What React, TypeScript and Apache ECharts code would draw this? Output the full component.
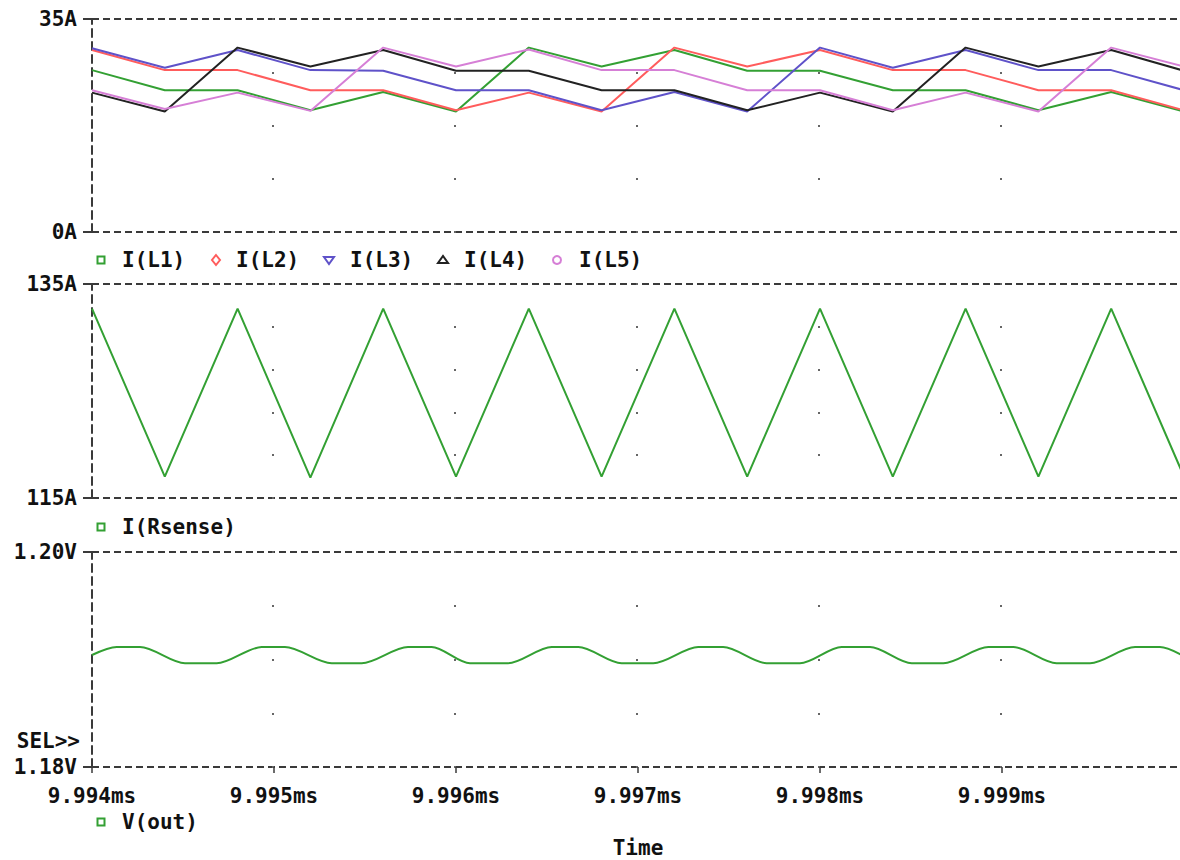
import React, { useEffect, useRef } from "react";
import * as echarts from "echarts";

// time offsets in microseconds from 9.994 ms
const T_STEPS = [0, 0.4, 0.8, 1.2, 1.6, 2.0, 2.4, 2.8, 3.2, 3.6, 4.0, 4.4, 4.8, 5.2, 5.6, 6.0];

const iL1 = [26.6, 23.3, 23.3, 20.0, 23.0, 19.8, 30.3, 27.2, 29.9, 26.5, 26.5, 23.3, 23.3, 20.0, 23.0, 19.8];
const iL2 = [29.9, 26.6, 26.6, 23.3, 23.3, 20.0, 22.9, 19.8, 30.3, 27.2, 29.9, 26.6, 26.6, 23.3, 23.3, 20.0];
const iL3 = [30.2, 27.0, 29.9, 26.6, 26.5, 23.3, 23.3, 20.0, 23.0, 19.8, 30.3, 27.0, 29.9, 26.6, 26.6, 23.3];
const iL4 = [22.9, 19.8, 30.3, 27.2, 29.9, 26.5, 26.5, 23.3, 23.3, 20.0, 22.9, 19.8, 30.3, 27.2, 29.9, 26.5];
const iL5 = [23.3, 20.2, 22.9, 19.9, 30.3, 27.2, 30.0, 26.6, 26.6, 23.3, 23.3, 20.0, 22.9, 19.8, 30.3, 27.2];

const iRsense = [132.7, 117.0, 132.7, 116.9, 132.7, 117.0, 132.7, 117.0, 132.7, 117.0, 132.7, 117.0, 132.7, 117.0, 132.7, 117.0];

const vTime = [0, 0.136, 0.264, 0.511, 0.685, 0.932, 1.06, 1.317, 1.482, 1.736, 1.866, 2.077, 2.286, 2.526, 2.672, 2.91, 3.084, 3.331, 3.468, 3.707, 3.89, 4.119, 4.275, 4.504, 4.678, 4.925, 5.062, 5.3, 5.484, 5.731, 5.868, 6.0];
const vOut = [1.19042, 1.19116, 1.19116, 1.18965, 1.18965, 1.19116, 1.19116, 1.18965, 1.18965, 1.19116, 1.19116, 1.18965, 1.18965, 1.19116, 1.19116, 1.18965, 1.18965, 1.19116, 1.19116, 1.18965, 1.18965, 1.19116, 1.19116, 1.18965, 1.18965, 1.19116, 1.19116, 1.18965, 1.18965, 1.19116, 1.19116, 1.1903];

const xTickLabels = ["9.994ms", "9.995ms", "9.996ms", "9.997ms", "9.998ms", "9.999ms", ""];
const yTickLabels = [
  ["0A", "35A"],
  ["115A", "135A"],
  ["1.18V", "1.20V"],
];
const yRanges = [
  [0, 35],
  [115, 135],
  [1.18, 1.2],
];
const yDivisions = [4, 5, 4];

const inductorNames = ["I(L1)", "I(L2)", "I(L3)", "I(L4)", "I(L5)"];
const inductorData = [iL1, iL2, iL3, iL4, iL5];

const GREEN = "#33a033";
const COLORS = [GREEN, "#ff5c5c", "#5f52c9", "#222222", "#d67fd6"];
const MARKERS = ["square", "diamond", "triDown", "triUp", "circle"];

const FONT = '"DejaVu Sans Mono", monospace';
const FS = 21;
const TXT = "#111";
const FRAME = "#3a3a3a";

const GRIDS = [
  { left: 92, top: 19, width: 1092, height: 213, outerBoundsMode: "none", containLabel: false },
  { left: 92, top: 284, width: 1092, height: 214, outerBoundsMode: "none", containLabel: false },
  { left: 92, top: 552, width: 1092, height: 215, outerBoundsMode: "none", containLabel: false },
];

function marker(kind: string, color: string, x: number, y: number): any {
  const style = { fill: "none", stroke: color, lineWidth: 2 };
  if (kind === "square") return { type: "rect", shape: { x: x - 3.5, y: y - 3.5, width: 7, height: 7 }, style };
  if (kind === "diamond") return { type: "polygon", shape: { points: [[x, y - 5], [x + 4, y], [x, y + 5], [x - 4, y]] }, style };
  if (kind === "triDown") return { type: "polygon", shape: { points: [[x - 5, y - 3], [x + 5, y - 3], [x, y + 4]] }, style };
  if (kind === "triUp") return { type: "polygon", shape: { points: [[x - 5, y + 3], [x + 5, y + 3], [x, y - 4]] }, style };
  return { type: "circle", shape: { cx: x, cy: y, r: 4 }, style };
}

function label(text: string, x: number, y: number, align = "left"): any {
  return {
    type: "text",
    x,
    y,
    style: { text, fontFamily: FONT, fontSize: FS, fontWeight: "bold", fill: TXT, verticalAlign: "middle", align },
  };
}

export default function App() {
  const ref = useRef<HTMLDivElement>(null);
  useEffect(() => {
    if (!ref.current) return;
    const chart = echarts.init(ref.current, undefined, { renderer: "svg" });

    const xAxis = GRIDS.map((_, i) => ({
      type: "value",
      gridIndex: i,
      min: 0,
      max: 6,
      interval: 1,
      axisLine: { show: false },
      splitLine: { show: false },
      axisTick: { show: i === 2, length: 6, lineStyle: { color: FRAME, width: 1.5 } },
      axisLabel: {
        show: i === 2,
        margin: 18,
        formatter: (v: number) => xTickLabels[Math.round(v)] ?? "",
        fontFamily: FONT,
        fontSize: FS,
        fontWeight: "bold",
        color: TXT,
      },
      name: i === 2 ? "Time" : "",
      nameLocation: "middle",
      nameGap: 70,
      nameTextStyle: { fontFamily: FONT, fontSize: FS, fontWeight: "bold", color: TXT },
    }));

    const yAxis: any[] = [];
    GRIDS.forEach((_, i) => {
      // data axis
      yAxis.push({ type: "value", gridIndex: i, position: "left", min: yRanges[i][0], max: yRanges[i][1], show: false });
      // frame axis with end labels
      yAxis.push({
        type: "value",
        gridIndex: i,
        position: "left",
        min: 0,
        max: 1,
        interval: 1,
        axisLine: { show: true, lineStyle: { color: FRAME, width: 2, type: [8, 5] } },
        axisTick: { show: true, length: 9, lineStyle: { color: FRAME, width: 2 } },
        axisLabel: {
          margin: 15,
          formatter: (v: number) => yTickLabels[i][Math.round(v)] ?? "",
          fontFamily: FONT,
          fontSize: FS,
          fontWeight: "bold",
          color: TXT,
          showMinLabel: true,
          showMaxLabel: true,
        },
        splitLine: { show: true, lineStyle: { color: FRAME, width: 2, type: [7, 4] } },
      });
      // dotted grid axis
      yAxis.push({
        type: "value",
        gridIndex: i,
        position: "left",
        min: 0,
        max: yDivisions[i],
        interval: 1,
        axisLine: { show: false },
        axisTick: { show: false },
        axisLabel: { show: false },
        splitLine: { show: true, lineStyle: { color: "#666", width: 2, type: [2, 180], dashOffset: 1.5 } },
      });
    });

    const series: any[] = inductorData.map((d, k) => ({
      name: inductorNames[k],
      type: "line",
      xAxisIndex: 0,
      yAxisIndex: 0,
      data: T_STEPS.map((t, j) => [t, d[j]]),
      symbol: "none",
      lineStyle: { color: COLORS[k], width: 2 },
      itemStyle: { color: COLORS[k] },
    }));
    series.push({
      name: "I(Rsense)",
      type: "line",
      xAxisIndex: 1,
      yAxisIndex: 3,
      data: T_STEPS.map((t, j) => [t, iRsense[j]]),
      symbol: "none",
      lineStyle: { color: GREEN, width: 2 },
    });
    series.push({
      name: "V(out)",
      type: "line",
      xAxisIndex: 2,
      yAxisIndex: 6,
      data: vTime.map((t, j) => [t, vOut[j]]),
      symbol: "none",
      smooth: 0.3,
      smoothMonotone: "x",
      lineStyle: { color: GREEN, width: 2 },
    });

    const graphic: any[] = [];
    const legendMarkerX = [101, 216, 329, 443, 557];
    const legendTextX = [122, 236, 350, 464, 579];
    inductorNames.forEach((n, k) => {
      graphic.push(marker(MARKERS[k], COLORS[k], legendMarkerX[k], 260));
      graphic.push(label(n, legendTextX[k], 260));
    });
    graphic.push(marker("square", GREEN, 101, 527));
    graphic.push(label("I(Rsense)", 122, 527));
    graphic.push(marker("square", GREEN, 101, 822));
    graphic.push(label("V(out)", 122, 822));
    graphic.push(label("SEL>>", 80, 741, "right"));

    chart.setOption({
      animation: false,
      backgroundColor: "#ffffff",
      grid: GRIDS,
      xAxis,
      yAxis,
      series,
      graphic,
    });
    return () => chart.dispose();
  }, []);
  return <div ref={ref} style={{ position: "absolute", left: 0, top: 0, width: 1180, height: 860 }} />;
}
